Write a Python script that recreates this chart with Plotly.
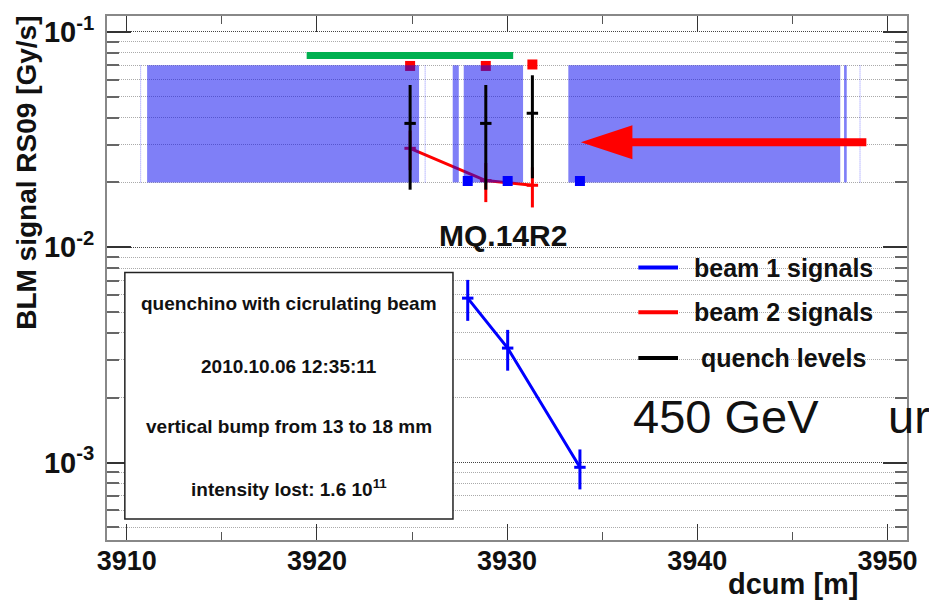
import plotly.graph_objects as go

# ---------------- data ----------------
blm_seg_start = [3911.07, 3927.14, 3927.72, 3933.22, 3947.72]
blm_seg_end = [3925.37, 3927.46, 3930.84, 3947.52, 3947.86]
blm_thin_lines = [3910.73, 3925.69, 3948.56]
blm_low, blm_high = 0.02, 0.07

beam1_dcum = [3927.93, 3930.03, 3933.83]
beam1_signal = [5.8e-3, 3.4e-3, 9.5e-4]
beam1_err = [1.25e-3, 0.73e-3, 2.0e-4]

beam2_dcum = [3924.90, 3928.88, 3931.33]
beam2_signal = [0.0288, 0.0204, 0.0194]
beam2_err = [0.006, 0.0042, 0.0041]

quench_dcum = [3924.90, 3928.88, 3931.33]
quench_level = [0.0376, 0.0376, 0.0419]
quench_err = [0.0191, 0.0191, 0.0210]

beam2_blm_dcum = [3924.90, 3928.88, 3931.33]
beam2_blm_level = [0.0695, 0.0695, 0.0706]
beam1_blm_dcum = [3927.93, 3930.03, 3933.83]
beam1_blm_level = [0.0203, 0.0203, 0.0203]

magnet_dcum = [3919.46, 3930.32]
magnet_level = [0.0777, 0.0777]
x_half_width = 0.3

x_range = [3908.96, 3951.03]
y_log_range = [-3.360, -0.926]
y_major = [1e-3, 1e-2, 1e-1]
y_major_text = ["10<sup>-3</sup>", "10<sup>-2</sup>", "10<sup>-1</sup>"]

info_lines = ["quenchino with cicrulating beam", "2010.10.06 12:35:11",
              "vertical bump from 13 to 18 mm", "intensity lost: 1.6 10<sup>11</sup>"]
legend_names = ["beam 1 signals", "beam 2 signals", " quench levels"]
legend_colors = ["#0000ff", "#ff0000", "#000000"]

FONT = "Liberation Sans, Arial, Helvetica, sans-serif"
W, H = 929, 603
L, R, T, B = 107, 15, 13, 63
PW, PH = W - L - R, H - T - B


def px(xp):
    return (xp - L) / PW


def py(yp):
    return (H - B - yp) / PH


fig = go.Figure()

# beam 2 BLM markers (under hatching)
fig.add_trace(go.Scatter(x=beam2_blm_dcum, y=beam2_blm_level, mode="markers",
                         marker=dict(symbol="square", size=10, color="#ff0000"),
                         showlegend=False, hoverinfo="skip"))
# beam 2 signals
fig.add_trace(go.Scatter(x=beam2_dcum, y=beam2_signal, mode="lines",
                         line=dict(color="#ff0000", width=3),
                         error_y=dict(type="data", array=beam2_err, color="#ff0000", thickness=3, width=0),
                         error_x=dict(type="data", array=[x_half_width] * 3, color="#ff0000", thickness=3, width=0),
                         showlegend=False))

# BLM regions (hatched look)
for a, b in zip(blm_seg_start, blm_seg_end):
    fig.add_trace(go.Scatter(x=[a, b, b, a, a], y=[blm_low, blm_low, blm_high, blm_high, blm_low],
                             mode="lines", fill="toself", fillcolor="rgba(10,10,240,0.52)",
                             line=dict(width=0), showlegend=False, hoverinfo="skip"))
for xv in blm_thin_lines:
    fig.add_trace(go.Scatter(x=[xv, xv], y=[blm_low, blm_high], mode="lines",
                             line=dict(color="rgba(0,0,255,0.45)", width=1, dash="1px,1px"),
                             showlegend=False, hoverinfo="skip"))

# quench levels
fig.add_trace(go.Scatter(x=quench_dcum, y=quench_level, mode="markers",
                         marker=dict(size=2, color="#000000"),
                         error_y=dict(type="data", array=quench_err, color="#000000", thickness=3, width=0),
                         error_x=dict(type="data", array=[x_half_width] * 3, color="#000000", thickness=3, width=0),
                         showlegend=False))
# beam 1 BLM markers
fig.add_trace(go.Scatter(x=beam1_blm_dcum, y=beam1_blm_level, mode="markers",
                         marker=dict(symbol="square", size=10, color="#0000ff"),
                         showlegend=False, hoverinfo="skip"))
# magnet bar
fig.add_trace(go.Scatter(x=magnet_dcum, y=magnet_level, mode="lines",
                         line=dict(color="#00b050", width=7),
                         showlegend=False, hoverinfo="skip"))
# beam 1 signals
fig.add_trace(go.Scatter(x=beam1_dcum, y=beam1_signal, mode="lines",
                         line=dict(color="#0000ff", width=3),
                         error_y=dict(type="data", array=beam1_err, color="#0000ff", thickness=3, width=0),
                         error_x=dict(type="data", array=[x_half_width] * 3, color="#0000ff", thickness=3, width=0),
                         showlegend=False))

shapes = []
annotations = []

# info box
shapes.append(dict(type="rect", xref="paper", yref="paper", x0=px(125), x1=px(456), y0=py(519), y1=py(271),
                   line=dict(color="#222", width=1.5), fillcolor="white", layer="above"))
for txt, yc in zip(info_lines, [302, 366, 426, 488]):
    annotations.append(dict(xref="paper", yref="paper", x=px(290.5), y=py(yc), text="<b>" + txt + "</b>",
                            showarrow=False, xanchor="center", yanchor="middle",
                            font=dict(family=FONT, size=19, color="#111")))

# legend (manual)
for name, col, yc in zip(legend_names, legend_colors, [266, 311, 357]):
    shapes.append(dict(type="line", xref="paper", yref="paper", x0=px(643), x1=px(683), y0=py(yc), y1=py(yc),
                       line=dict(color=col, width=4)))
    annotations.append(dict(xref="paper", yref="paper", x=px(697), y=py(yc), text="<b>" + name + "</b>",
                            showarrow=False, xanchor="left", yanchor="middle",
                            font=dict(family=FONT, size=25, color="#111")))

# red arrow
arrow_pts = [(585, 140), (637, 123), (637, 136), (873, 136), (873, 144), (637, 144), (637, 157)]
path = "M " + " L ".join(f"{px(a):.5f},{py(b):.5f}" for a, b in arrow_pts) + " Z"
shapes.append(dict(type="path", xref="paper", yref="paper", path=path, fillcolor="#ff0000",
                   line=dict(width=0), layer="above"))

# labels
annotations.append(dict(xref="paper", yref="paper", x=px(440), y=py(234), text="<b>MQ.14R2</b>",
                        showarrow=False, xanchor="left", yanchor="middle",
                        font=dict(family=FONT, size=30, color="#111")))
annotations.append(dict(xref="paper", yref="paper", x=px(636), y=py(416), text="450 GeV",
                        showarrow=False, xanchor="left", yanchor="middle",
                        font=dict(family=FONT, size=47, color="#111")))
annotations.append(dict(xref="paper", yref="paper", x=px(893), y=py(416), text="ur",
                        showarrow=False, xanchor="left", yanchor="middle",
                        font=dict(family=FONT, size=47, color="#111")))
annotations.append(dict(xref="paper", yref="paper", x=px(868), y=py(584), text="<b>dcum [m]</b>",
                        showarrow=False, xanchor="right", yanchor="middle",
                        font=dict(family=FONT, size=29, color="#111")))
annotations.append(dict(xref="paper", yref="paper", x=px(25), y=py(171), text="<b>BLM signal RS09 [Gy/s]</b>",
                        showarrow=False, xanchor="center", yanchor="middle", textangle=-90,
                        font=dict(family=FONT, size=28, color="#111")))

minor_y = [m * 10.0 ** e for e in (-4, -3, -2, -1) for m in range(2, 10)]

fig.update_layout(
    width=W, height=H, autosize=False,
    margin=dict(l=L, r=R, t=T, b=B, pad=0),
    paper_bgcolor="white", plot_bgcolor="white",
    showlegend=False,
    shapes=shapes, annotations=annotations,
    xaxis=dict(range=x_range, showgrid=False, zeroline=False,
               showline=True, linecolor="#888", linewidth=2, mirror="ticks",
               ticks="inside", ticklen=16, tickwidth=1, tickcolor="#333",
               tickmode="linear", tick0=3910, dtick=10,
               minor=dict(dtick=5, tick0=3910, ticks="inside", ticklen=8, tickcolor="#555", showgrid=False),
               tickfont=dict(family=FONT, size=27, color="#111", weight="bold"),
               ticklabelstandoff=-4),
    yaxis=dict(type="log", range=y_log_range, zeroline=False,
               showline=True, linecolor="#888", linewidth=2, mirror="ticks",
               ticks="inside", ticklen=24, tickwidth=1.5, tickcolor="#333",
               tickmode="array", tickvals=y_major, ticktext=y_major_text,
               showgrid=True, gridcolor="#444", gridwidth=1, griddash="1px,1px",
               minor=dict(tickmode="array", tickvals=minor_y, ticks="inside", ticklen=12,
                          tickcolor="#666", tickwidth=1.5,
                          showgrid=True, gridcolor="#aaa", gridwidth=1, griddash="1px,1px"),
               tickfont=dict(family=FONT, size=29, color="#111", weight="bold"),
               ticklabelstandoff=5),
)

fig.write_html("out.html")
